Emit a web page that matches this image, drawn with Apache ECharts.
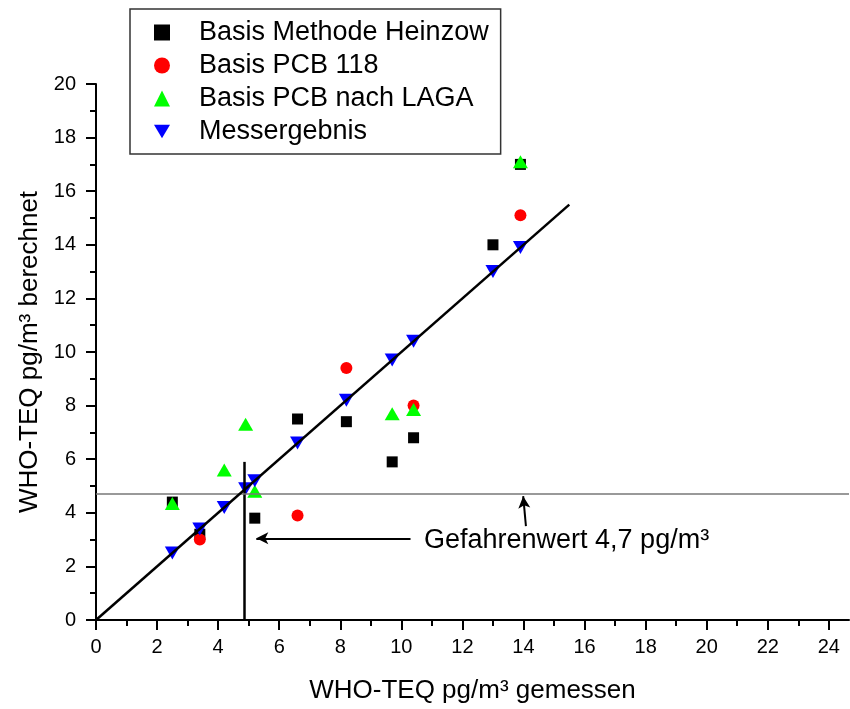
<!DOCTYPE html>
<html>
<head>
<meta charset="utf-8">
<script src="https://cdn.jsdelivr.net/npm/echarts@6/dist/echarts.min.js"></script>
<style>
  html, body { margin: 0; padding: 0; background: #fff; }
  #chart { width: 850px; height: 709px; }
</style>
</head>
<body>
<div id="chart"></div>
<script>
// gemessen (x) / berechnet (y)
const heinzowX = [2.5, 3.4, 5.2, 6.6, 8.2, 9.7, 10.4, 13.0, 13.9]
const heinzowY = [4.4, 3.2, 3.8, 7.5, 7.4, 5.9, 6.8, 14.0, 17.0]
const pcb118X = [3.4, 6.6, 8.2, 10.4, 13.9]
const pcb118Y = [3.0, 3.9, 9.4, 8.0, 15.1]
const lagaX = [2.5, 4.2, 4.9, 5.2, 9.7, 10.4, 13.9]
const lagaY = [4.35, 5.6, 7.3, 4.8, 7.7, 7.85, 17.1]
const messX = [2.5, 3.4, 4.2, 4.9, 5.2, 6.6, 8.2, 9.7, 10.4, 13.0, 13.9]
const messY = [2.5, 3.4, 4.2, 4.9, 5.2, 6.6, 8.2, 9.7, 10.4, 13.0, 13.9]

// Winkelhalbierende und Markierungen
const diagX = [0, 15.5]
const diagY = [0, 15.5]
const gefahrenwert = 4.7
const senkrechtX = 4.85
const senkrechtTop = 5.9
const pfeil1 = [[10.3, 3.05], [5.25, 3.05]]
const pfeil2 = [[14.08, 3.5], [13.99, 4.62]]

const xMajor = [0, 2, 4, 6, 8, 10, 12, 14, 16, 18, 20, 22, 24]
const xMinor = [1, 3, 5, 7, 9, 11, 13, 15, 17, 19, 21, 23]

const names = ['Basis Methode Heinzow', 'Basis PCB 118', 'Basis PCB nach LAGA', 'Messergebnis']
const font = 'Liberation Sans, Arial, Helvetica, sans-serif'
const xMax = 24.66
// Dreieck mit Spitze nach unten
const downTriangle = 'path://M0,0L20,0L10,17Z'

function pairs(xs, ys) {
  return xs.map((x, i) => [x, ys[i]])
}

let myChart = echarts.init(document.getElementById('chart'))

let option = {
  animation: false,
  textStyle: { fontFamily: font, color: '#000' },
  grid: { left: 96, right: 850 - 96 - Math.round(xMax * 30.54), top: 84, bottom: 88 },
  legend: {
    data: names,
    orient: 'vertical',
    left: 130,
    top: 9,
    padding: [10, 12, 9, 24],
    itemGap: 6,
    itemWidth: 16,
    itemHeight: 16,
    borderColor: '#333',
    borderWidth: 1.5,
    textStyle: { fontSize: 27, color: '#000', fontFamily: font, padding: [0, 0, 0, 24] }
  },
  xAxis: [
    {
      type: 'value',
      min: 0,
      max: xMax,
      name: 'WHO-TEQ pg/m³ gemessen',
      nameLocation: 'middle',
      nameGap: 58,
      nameTextStyle: { fontSize: 26, color: '#000', fontFamily: font },
      axisLine: { lineStyle: { color: '#000', width: 2 } },
      axisTick: { customValues: xMajor, length: 10, lineStyle: { color: '#000', width: 2 } },
      axisLabel: { customValues: xMajor, fontSize: 20, color: '#000', margin: 17, fontFamily: font },
      splitLine: { show: false }
    },
    {
      type: 'value',
      min: 0,
      max: xMax,
      position: 'bottom',
      axisLine: { show: false },
      axisTick: { customValues: xMinor, length: 6, lineStyle: { color: '#000', width: 2 } },
      axisLabel: { show: false },
      splitLine: { show: false }
    }
  ],
  yAxis: {
    type: 'value',
    min: 0,
    max: 20,
    interval: 2,
    name: 'WHO-TEQ pg/m³ berechnet',
    nameLocation: 'middle',
    nameGap: 50,
    nameTextStyle: { fontSize: 26, color: '#000', fontFamily: font },
    axisLine: { show: true, lineStyle: { color: '#000', width: 2 } },
    axisTick: { length: 10, lineStyle: { color: '#000', width: 2 } },
    minorTick: { show: true, splitNumber: 2, length: 6, lineStyle: { color: '#000', width: 2 } },
    axisLabel: { fontSize: 20, color: '#000', margin: 20, fontFamily: font },
    splitLine: { show: false }
  },
  series: [
    {
      name: names[0],
      type: 'scatter',
      symbol: 'rect',
      symbolSize: 11,
      itemStyle: { color: '#000', opacity: 1 },
      data: pairs(heinzowX, heinzowY)
    },
    {
      name: names[1],
      type: 'scatter',
      symbol: 'circle',
      symbolSize: 12,
      itemStyle: { color: '#ff0000', opacity: 1 },
      data: pairs(pcb118X, pcb118Y)
    },
    {
      name: names[2],
      type: 'scatter',
      symbol: 'triangle',
      symbolSize: [15, 13],
      itemStyle: { color: '#00ff00', opacity: 1 },
      data: pairs(lagaX, lagaY)
    },
    {
      name: names[3],
      type: 'scatter',
      symbol: downTriangle,
      symbolSize: [15, 13],
      itemStyle: { color: '#0000ff', opacity: 1 },
      data: pairs(messX, messY)
    },
    {
      name: 'diag',
      type: 'line',
      showSymbol: false,
      z: 5,
      lineStyle: { color: '#000', width: 2.5 },
      data: pairs(diagX, diagY),
      markLine: {
        silent: true,
        animation: false,
        symbol: ['none', 'arrow'],
        symbolSize: [9, 12],
        label: { show: false },
        lineStyle: { color: '#000', width: 2, type: 'solid' },
        data: [
          [{ coord: pfeil1[0] }, { coord: pfeil1[1] }],
          [{ coord: pfeil2[0] }, { coord: pfeil2[1] }],
          [
            { coord: [senkrechtX, 0], symbol: 'none', lineStyle: { width: 2.5 } },
            { coord: [senkrechtX, senkrechtTop], symbol: 'none' }
          ],
          [
            { coord: [0, gefahrenwert], symbol: 'none', lineStyle: { color: '#777', width: 1.5 } },
            { coord: [xMax, gefahrenwert], symbol: 'none' }
          ]
        ]
      }
    }
  ],
  graphic: [
    {
      type: 'text',
      left: 424,
      top: 527,
      style: { text: 'Gefahrenwert 4,7 pg/m³', fill: '#000', font: '27px ' + font }
    }
  ]
}

myChart.setOption(option)
</script>
</body>
</html>
